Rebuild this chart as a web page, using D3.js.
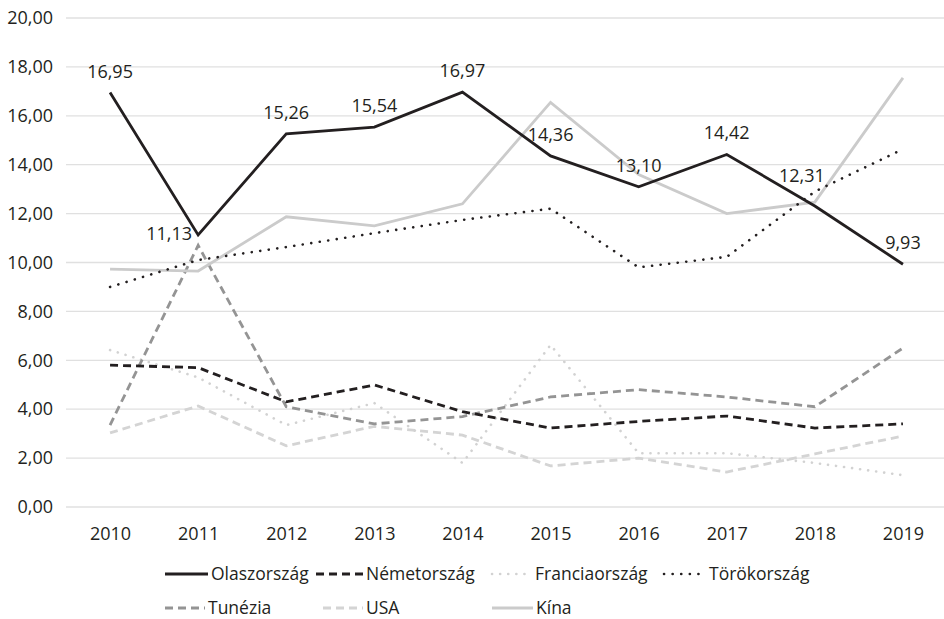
<!DOCTYPE html>
<html>
<head>
<meta charset="utf-8">
<script src="https://cdn.jsdelivr.net/npm/d3@7"></script>
<style>
  body { margin: 0; background: #fff; }
  svg text { font-family: "Open Sans", "Noto Sans", sans-serif; fill: #231f20; }
</style>
</head>
<body>
<div id="chart"></div>
<script>
var years = ["2010", "2011", "2012", "2013", "2014", "2015", "2016", "2017", "2018", "2019"];
var yTicks = [0, 2, 4, 6, 8, 10, 12, 14, 16, 18, 20];

var olaszorszag   = [16.95, 11.13, 15.26, 15.54, 16.97, 14.36, 13.10, 14.42, 12.31, 9.93];
var nemetorszag   = [5.80, 5.70, 4.30, 4.99, 3.90, 3.23, 3.50, 3.72, 3.23, 3.40];
var franciaorszag = [6.42, 5.30, 3.35, 4.25, 1.80, 6.63, 2.20, 2.20, 1.80, 1.30];
var torokorszag   = [9.00, 10.10, 10.63, 11.20, 11.74, 12.20, 9.80, 10.23, 12.90, 14.64];
var tunezia       = [3.35, 10.70, 4.10, 3.40, 3.70, 4.50, 4.80, 4.50, 4.10, 6.50];
var usa           = [3.03, 4.13, 2.50, 3.30, 2.94, 1.68, 2.00, 1.43, 2.17, 2.90];
var kina          = [9.73, 9.65, 11.87, 11.50, 12.40, 16.55, 13.60, 12.00, 12.47, 17.55];

var seriesNames = ["Olaszország", "Németország", "Franciaország", "Törökország", "Tunézia", "USA", "Kína"];
var seriesValues = [olaszorszag, nemetorszag, franciaorszag, torokorszag, tunezia, usa, kina];

// styles per series
var styles = {
    "Olaszország":   { color: "#231f20", dash: null, cap: "butt", width: 2.8 },
    "Németország":   { color: "#231f20", dash: "8,5", cap: "butt", width: 2.8 },
    "Franciaország": { color: "#d2d2d2", dash: "0.1,8", cap: "round", width: 2.6 },
    "Törökország":   { color: "#231f20", dash: "0.1,8.5", cap: "round", width: 2.6 },
    "Tunézia":       { color: "#949494", dash: "8,5", cap: "butt", width: 2.8 },
    "USA":           { color: "#d4d4d4", dash: "8,5", cap: "butt", width: 2.8 },
    "Kína":          { color: "#cbcbcb", dash: null, cap: "butt", width: 2.8 }
};

// draw order (back to front)
var drawOrder = ["USA", "Franciaország", "Tunézia", "Németország", "Kína", "Törökország", "Olaszország"];

var width = 944, height = 619;

var svg = d3.select("#chart").append("svg")
    .attr("width", width)
    .attr("height", height);

var x = d3.scalePoint()
    .domain(years)
    .range([66, 947])
    .padding(0.5);

var y = d3.scaleLinear()
    .domain([0, 20])
    .range([507, 18]);

var fmt = function (v) { return d3.format(".2f")(v).replace(".", ","); };

// gridlines
svg.append("g")
    .selectAll("line")
    .data(yTicks)
    .enter().append("line")
    .attr("x1", 66).attr("x2", 944)
    .attr("y1", function (d) { return y(d); })
    .attr("y2", function (d) { return y(d); })
    .attr("stroke", "#e0e0e0")
    .attr("stroke-width", 1.3);

// y axis labels
var yAxis = d3.axisLeft(y).tickValues(yTicks).tickFormat(fmt).tickSize(0).tickPadding(0);
var gy = svg.append("g").attr("transform", "translate(53,0)").call(yAxis);
gy.select(".domain").remove();
gy.selectAll("text").style("font-size", "18px").attr("fill", "#231f20");

// x axis labels
var xAxis = d3.axisBottom(x).tickSize(0).tickPadding(0);
var gx = svg.append("g").attr("transform", "translate(0,526)").call(xAxis);
gx.select(".domain").remove();
gx.selectAll("text").style("font-size", "18px").attr("fill", "#231f20").attr("dy", "0.75em");

var line = d3.line()
    .x(function (d, i) { return x(years[i]); })
    .y(function (d) { return y(d); });

drawOrder.forEach(function (name) {
    var s = styles[name];
    var vals = seriesValues[seriesNames.indexOf(name)];
    svg.append("path")
        .datum(vals)
        .attr("d", line)
        .attr("fill", "none")
        .attr("stroke", s.color)
        .attr("stroke-width", s.width)
        .attr("stroke-dasharray", s.dash)
        .attr("stroke-linecap", s.cap)
        .attr("stroke-linejoin", "miter");
});

// data labels for Olaszország
var labelShift = [[0, 0], [-29, 20], [0, 0], [0, 0], [0, 0], [0, 0], [0, 0], [0, 0], [-13, -9], [0, 0]];
svg.append("g")
    .selectAll("text")
    .data(olaszorszag)
    .enter().append("text")
    .attr("x", function (d, i) { return x(years[i]) + labelShift[i][0]; })
    .attr("y", function (d, i) { return y(d) - 15 + labelShift[i][1]; })
    .attr("text-anchor", "middle")
    .style("font-size", "18px")
    .text(fmt);

// legend
var legendPos = [
    [165, 574], [316, 574], [492, 574], [664, 574],
    [165, 608], [323, 608], [492, 608]
];
var legendLen = [43, 47, 40, 42, 40, 40, 41];

var legend = svg.append("g")
    .selectAll("g")
    .data(seriesNames)
    .enter().append("g")
    .attr("transform", function (d, i) { return "translate(" + legendPos[i][0] + "," + legendPos[i][1] + ")"; });

legend.append("line")
    .attr("x1", 0)
    .attr("x2", function (d, i) { return legendLen[i]; })
    .attr("y1", 0).attr("y2", 0)
    .attr("stroke", function (d) { return styles[d].color; })
    .attr("stroke-width", function (d) { return styles[d].width; })
    .attr("stroke-dasharray", function (d) { return styles[d].dash; })
    .attr("stroke-linecap", function (d) { return styles[d].cap; });

legend.append("text")
    .attr("x", function (d, i) { return legendLen[i] + 3; })
    .attr("dy", "0.35em")
    .style("font-size", "17.5px")
    .text(function (d) { return d; });
</script>
</body>
</html>
